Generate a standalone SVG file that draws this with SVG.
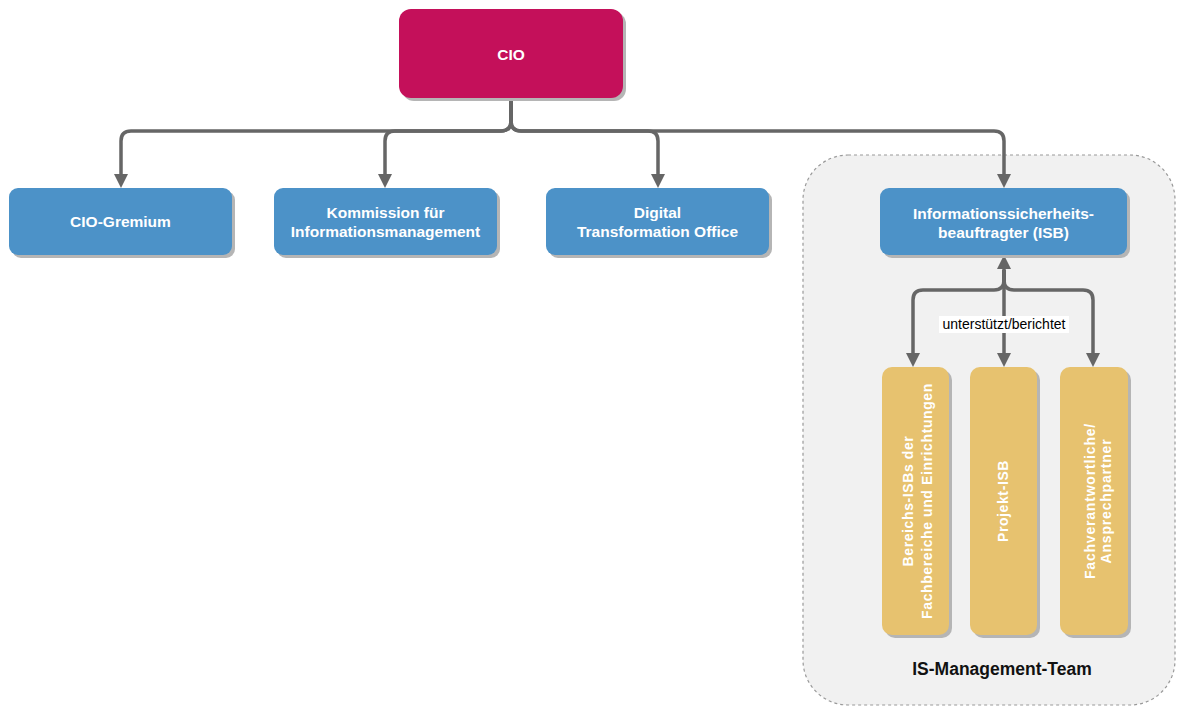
<svg xmlns="http://www.w3.org/2000/svg" width="1177" height="709" viewBox="0 0 1177 709">
<style>
.t{font-family:"Liberation Sans",Arial,sans-serif;font-weight:bold;fill:#fff;font-size:15.5px;text-anchor:middle}
.v{font-size:14px}
.blue{fill:#4C92C8}
.yel{fill:#E7C26F}
.sh{fill:#B5B5B5}
.c{fill:none;stroke:#666;stroke-width:3.5}
.lbl{font-family:"Liberation Sans",Arial,sans-serif;font-size:14px;fill:#000;text-anchor:middle}
</style>
<defs>
<marker id="ah" markerUnits="userSpaceOnUse" viewBox="0 0 14 14" refX="10" refY="7" markerWidth="14" markerHeight="14" orient="auto">
<path d="M0,0 L14,7 L0,14 z" fill="#666"/>
</marker>
</defs>
<rect width="1177" height="709" fill="#fff"/>
<g id="group-is-team">
<rect x="803" y="155" width="372" height="550" rx="45" fill="#F1F1F1" stroke="#999" stroke-width="1.2" stroke-dasharray="3,3"/>
<text x="1002" y="675" font-family="Liberation Sans, Arial, sans-serif" font-weight="bold" font-size="17.5" text-anchor="middle" fill="#111">IS-Management-Team</text>
</g>
<g id="connectors">
<path class="c" marker-end="url(#ah)" d="M511,98 V121 Q511,131 501,131 H131 Q121,131 121,141 V184"/>
<path class="c" marker-end="url(#ah)" d="M511,98 V121 Q511,131 501,131 H395 Q385,131 385,141 V184"/>
<path class="c" marker-end="url(#ah)" d="M511,98 V121 Q511,131 521,131 H648 Q658,131 658,141 V184"/>
<path class="c" marker-end="url(#ah)" d="M511,98 V121 Q511,131 521,131 H994 Q1004,131 1004,141 V184"/>
<path class="c" marker-end="url(#ah)" d="M1004,285 V259"/>
<path class="c" marker-end="url(#ah)" d="M1004,270 V280 Q1004,290 994,290 H923 Q913,290 913,300 V363"/>
<path class="c" marker-end="url(#ah)" d="M1004,270 V363"/>
<path class="c" marker-end="url(#ah)" d="M1004,270 V280 Q1004,290 1014,290 H1083 Q1093,290 1093,300 V363"/>
<rect x="939" y="316" width="130" height="17" fill="#fff"/>
<text class="lbl" x="1004" y="329">unterstützt/berichtet</text>
</g>
<g id="node-cio">
<rect class="sh" x="402" y="12" width="224" height="89" rx="12"/>
<rect x="399" y="9" width="224" height="89" rx="12" fill="#C4105A"/>
<text class="t" x="511" y="60" font-size="16">CIO</text>
</g>
<g id="node-cio-gremium">
<rect class="sh" x="12" y="191" width="223" height="67" rx="9"/>
<rect class="blue" x="9" y="188" width="223" height="67" rx="9"/>
<text class="t" x="120.5" y="227">CIO-Gremium</text>
</g>
<g id="node-kommission">
<rect class="sh" x="277" y="191" width="223" height="67" rx="9"/>
<rect class="blue" x="274" y="188" width="223" height="67" rx="9"/>
<text class="t" x="385.5" y="218">Kommission für</text>
<text class="t" x="385.5" y="237">Informationsmanagement</text>
</g>
<g id="node-dto">
<rect class="sh" x="549" y="191" width="223" height="67" rx="9"/>
<rect class="blue" x="546" y="188" width="223" height="67" rx="9"/>
<text class="t" x="657.5" y="218">Digital</text>
<text class="t" x="657.5" y="237">Transformation Office</text>
</g>
<g id="node-isb">
<rect class="sh" x="883" y="191" width="247" height="67" rx="9"/>
<rect class="blue" x="880" y="188" width="247" height="67" rx="9"/>
<text class="t" x="1003.5" y="219">Informationssicherheits-</text>
<text class="t" x="1003.5" y="238">beauftragter (ISB)</text>
</g>
<g id="node-bereichs-isbs">
<rect class="sh" x="885" y="370" width="67" height="268" rx="10"/>
<rect class="yel" x="882" y="367" width="67" height="268" rx="10"/>
<text class="t v" transform="translate(913,501) rotate(-90)" letter-spacing="0.6"><tspan x="0" y="0">Bereichs-ISBs der</tspan><tspan x="0" y="19">Fachbereiche und Einrichtungen</tspan></text>
</g>
<g id="node-projekt-isb">
<rect class="sh" x="973" y="370" width="67" height="268" rx="10"/>
<rect class="yel" x="970" y="367" width="67" height="268" rx="10"/>
<text class="t v" transform="translate(1008,501) rotate(-90)" letter-spacing="0.6">Projekt-ISB</text>
</g>
<g id="node-fachverantwortliche">
<rect class="sh" x="1063" y="370" width="68" height="268" rx="10"/>
<rect class="yel" x="1060" y="367" width="68" height="268" rx="10"/>
<text class="t v" transform="translate(1095,501) rotate(-90)" letter-spacing="0.8"><tspan x="0" y="0">Fachverantwortliche/</tspan><tspan x="0" y="16">Ansprechpartner</tspan></text>
</g>
</svg>
